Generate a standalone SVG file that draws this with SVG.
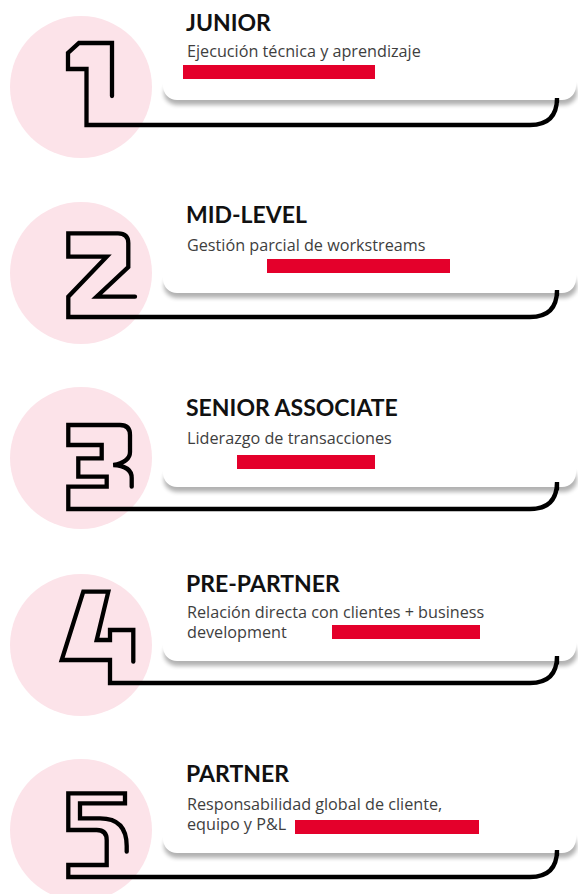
<svg xmlns="http://www.w3.org/2000/svg" width="578" height="894" viewBox="0 0 578 894">
<defs>
<filter id="bl" x="-5%" y="-50%" width="110%" height="200%">
<feGaussianBlur stdDeviation="2"/>
</filter>
<style>
.bg{fill:#fce3e9}
.card{fill:#fff}
.shd{fill:#000;opacity:0.3;filter:url(#bl)}
.bar{fill:#e4002b}
.t{font-family:Lato,"Open Sans",sans-serif;font-weight:700;font-size:23px;fill:#111}
.s{font-family:"Open Sans",Lato,sans-serif;font-size:16.2px;fill:#3e3e3e}
.ln{fill:none;stroke:#000;stroke-width:4.3;stroke-linecap:round;stroke-linejoin:miter}
</style>
</defs>
<rect width="578" height="894" fill="#fff"/>
<g id="node-1">
<circle class="bg" cx="81" cy="87" r="71"/>
<rect class="shd" x="164" y="81" width="413" height="24" rx="14"/>
<rect class="card" x="163" y="-10" width="413" height="110" rx="14"/>
<text class="t" x="186" y="31">JUNIOR</text>
<text class="s" x="187" y="57">Ejecución técnica y aprendizaje</text>
<rect class="bar" x="183" y="65" width="192" height="14"/>
</g>
<g id="node-2">
<circle class="bg" cx="81" cy="273" r="71"/>
<rect class="shd" x="164" y="274" width="413" height="24" rx="14"/>
<rect class="card" x="163" y="183" width="413" height="110" rx="14"/>
<text class="t" x="186" y="223">MID-LEVEL</text>
<text class="s" x="187" y="251">Gestión parcial de workstreams</text>
<rect class="bar" x="267" y="259" width="183" height="14"/>
</g>
<g id="node-3">
<circle class="bg" cx="81" cy="458" r="71"/>
<rect class="shd" x="164" y="468" width="413" height="24" rx="14"/>
<rect class="card" x="163" y="377" width="413" height="110" rx="14"/>
<text class="t" x="186" y="416">SENIOR ASSOCIATE</text>
<text class="s" x="187" y="444">Liderazgo de transacciones</text>
<rect class="bar" x="237" y="455" width="138" height="14"/>
</g>
<g id="node-4">
<circle class="bg" cx="81" cy="645" r="71"/>
<rect class="shd" x="164" y="642" width="413" height="24" rx="14"/>
<rect class="card" x="163" y="551" width="413" height="110" rx="14"/>
<text class="t" x="186" y="592">PRE-PARTNER</text>
<text class="s" x="187" y="618">Relación directa con clientes + business</text>
<text class="s" x="187" y="638">development</text>
<rect class="bar" x="332" y="625" width="148" height="14"/>
</g>
<g id="node-5">
<circle class="bg" cx="81" cy="830" r="71"/>
<rect class="shd" x="164" y="834" width="413" height="24" rx="14"/>
<rect class="card" x="163" y="743" width="413" height="110" rx="14"/>
<text class="t" x="186" y="782">PARTNER</text>
<text class="s" x="187" y="810">Responsabilidad global de cliente,</text>
<text class="s" x="187" y="830">equipo y P&amp;L</text>
<rect class="bar" x="295" y="820" width="184" height="14"/>
</g>
<g id="connectors">
<path class="ln" d="M112,96 V43 H79 L68,53 V69 H86.5 V125 H530 Q557,125 557,98 V102.2"/>
<path class="ln" d="M135,296.7 H96.7 L128.3,267 V243 Q128.3,233.3 118,233.3 H68.3 V256.7 H106.7 L68.3,296.7 V317 H530 Q557,317 557,290 V295.2"/>
<path class="ln" d="M131.7,486.7 V478 Q131.7,466 113.3,465 Q130,462 130,452 V435 Q130,425 120,425 H68.3 V445 H101.7 V458.3 H78.3 V476.7 H106.7 V486.7 H68.3 V509 H530 Q557,509 557,482 V489.2"/>
<path class="ln" d="M133.3,661.7 V630 H110 V640 H96.7 L108.3,591.7 H83.3 L61.7,660 H110 V683 H530 Q557,683 557,656 V663.2"/>
<path class="ln" d="M126.7,851.7 V846 Q126.7,818.3 100,818.3 H80 V803.3 H125 V793.3 H68.3 V830 H96.7 Q106.7,830 106.7,840 V865 H68.3 V877 H530 Q557,877 557,850 V855.2"/>
</g>
</svg>
